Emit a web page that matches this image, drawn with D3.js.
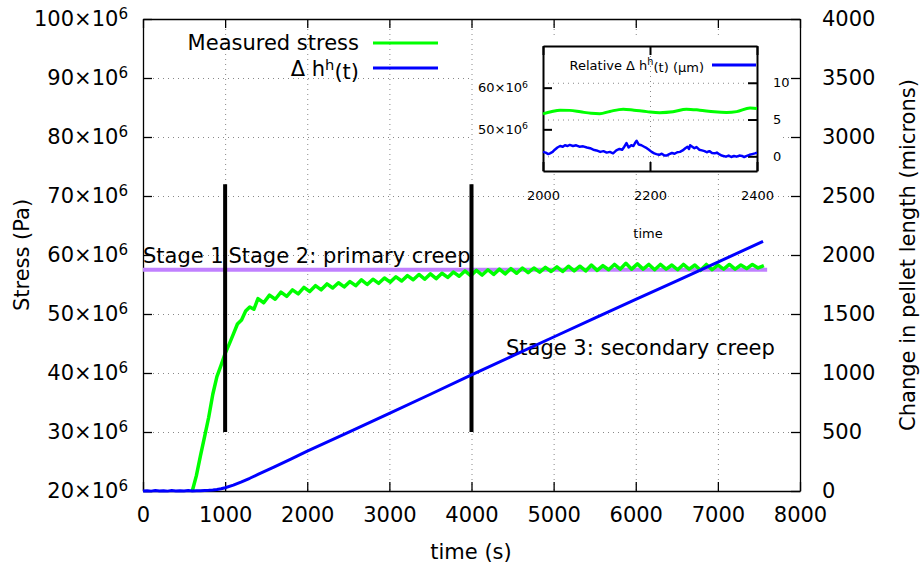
<!DOCTYPE html>
<html><head><meta charset="utf-8">
<script src="https://cdn.jsdelivr.net/npm/d3@7"></script>
<style>
body{margin:0;background:#fff;}
svg{display:block;font-family:"DejaVu Sans",sans-serif;}
</style></head>
<body>
<svg id="c" width="924" height="569"></svg>
<script>
// ---------- data ----------
const xTicks = [0,1000,2000,3000,4000,5000,6000,7000,8000];
const yTicksStress = [20,30,40,50,60,70,80,90,100]; // ×10^6 Pa
const yTicksLen = [0,500,1000,1500,2000,2500,3000,3500,4000];
const stageTimes = [1000,4000];
const stageSpan = [30,72];           // MPa extent of stage markers
const meanStress = 57.5;             // MPa
const meanStressEnd = 7600;
const stageLabels = [
  {t:0, s:58.6, text:"Stage 1"},
  {t:1040, s:58.6, text:"Stage 2: primary creep"},
  {t:4420, s:43.0, text:"Stage 3: secondary creep"}
];
// measured stress [time (s), MPa]
const stressSeries = [
 [600,20.0],[650,22.6],[700,26.0],[750,29.2],[800,32.5],[850,36.4],[900,39.4],[950,41.3],
 [1000,43.3],[1050,44.9],[1100,46.6],[1150,48.3],[1200,49.0],[1250,50.5],[1300,51.2],[1350,50.8],
 [1400,52.6],[1470,51.9],[1540,53.2],[1610,52.5],[1680,53.7],[1750,53.0],[1820,54.1],[1890,53.4],
 [1960,54.5],[2030,53.8],[2100,54.8],[2170,54.1],[2240,55.1],[2310,54.4],[2380,55.3],[2450,54.6],
 [2520,55.5],[2590,54.8],[2660,55.8],[2730,55.0],[2800,55.9],[2870,55.2],[2940,56.1],[3010,55.4],
 [3080,56.3],[3150,55.6],[3220,56.5],[3290,55.8],[3360,56.7],[3430,55.9],[3500,56.8],[3570,56.0],
 [3640,56.9],[3710,56.2],[3780,57.1],[3850,56.4],[3920,57.3],[3990,56.5],[4060,57.4],[4130,56.6],
 [4200,57.5],[4270,56.7],[4340,57.6],[4410,56.8],[4480,57.7],[4550,56.9],[4620,57.8],[4690,57.0],
 [4760,57.8],[4830,57.1],[4900,57.9],[4970,57.2],[5040,58.0],[5110,57.2],[5180,58.1],[5250,57.3],
 [5320,58.1],[5390,57.3],[5460,58.3],[5530,57.4],[5600,58.2],[5670,57.5],[5740,58.4],[5810,57.6],
 [5880,58.6],[5950,57.6],[6020,58.5],[6090,57.6],[6160,58.4],[6230,57.5],[6300,58.4],[6370,57.6],
 [6440,58.3],[6510,57.5],[6580,58.4],[6650,57.6],[6720,58.3],[6790,57.4],[6860,58.4],[6930,57.5],
 [7000,58.3],[7070,57.6],[7140,58.4],[7210,57.6],[7280,58.3],[7350,57.7],[7420,58.4],[7490,57.8],
 [7560,58.2]
];
// change in pellet length [time (s), microns]
const lengthSeries = [
 [0,0],[50,3],[100,-1],[150,4],[200,0],[250,3],[300,-1],[350,4],[400,1],[450,3],[500,0],[550,4],
 [600,1],[650,3],[700,2],[750,5],[800,6],[850,9],[900,13],[950,19],[1000,28],[1100,50],[1200,78],
 [1300,108],[1400,140],[1500,172],[1600,205],[1800,270],[2000,338],[2500,497],[3000,658],[3500,820],
 [4000,985],[4500,1145],[5000,1305],[5500,1465],[6000,1623],[6500,1780],[7000,1940],[7550,2115]
];
// inset: 2000–2400 s
const insetXTicks = [2000,2200,2400];
const insetYTicksStress = [50,60];
const insetYTicksRel = [0,5,10];
const insetStress = [
 [2000,53.7],[2015,54.2],[2032,54.6],[2050,54.55],[2070,54.2],[2090,53.85],[2106,53.75],[2125,54.3],
 [2150,54.85],[2170,54.6],[2194,54.25],[2218,54.0],[2243,54.2],[2268,54.85],[2293,54.6],[2320,54.2],
 [2343,54.05],[2362,54.25],[2387,55.1],[2400,55.0]
];
const insetRelDh = [
 [2000,0.6],[2005,0.5],[2010,0.3],[2013,0.4],[2018,0.6],[2022,0.9],[2027,1.2],[2032,1.4],[2037,1.3],
 [2041,1.5],[2046,1.4],[2050,1.55],[2056,1.4],[2062,1.5],[2068,1.3],[2075,1.35],[2082,1.2],[2088,1.1],
 [2094,0.9],[2100,0.8],[2107,0.6],[2113,0.7],[2119,0.5],[2125,0.6],[2131,0.4],[2137,0.8],[2143,1.0],
 [2148,0.9],[2152,1.3],[2156,1.8],[2160,1.2],[2165,1.5],[2169,1.4],[2172,1.8],[2175,2.1],[2179,1.6],
 [2184,1.5],[2189,1.3],[2194,1.1],[2198,0.9],[2203,0.6],[2208,0.4],[2212,0.3],[2217,0.2],[2222,0.35],
 [2227,0.1],[2231,0.1],[2236,0.3],[2241,0.45],[2246,0.35],[2251,0.55],[2256,0.6],[2261,0.8],[2266,1.1],
 [2270,1.3],[2273,1.0],[2275,1.5],[2279,1.3],[2283,1.1],[2287,1.25],[2292,0.9],[2297,0.8],[2302,0.7],
 [2306,0.55],[2311,0.7],[2316,0.45],[2321,0.4],[2325,0.5],[2330,0.25],[2334,0.1],[2337,0.05],
 [2342,-0.05],[2347,0.1],[2352,-0.1],[2357,0.05],[2362,-0.05],[2367,0.1],[2372,0.05],[2376,-0.1],
 [2381,0.05],[2386,0.2],[2391,0.3],[2396,0.4],[2400,0.5]
];

// ---------- drawing ----------
const svg = d3.select("#c");
const L=143, R=800, T=19, B=491;
const x = d3.scaleLinear([0,8000],[L,R]);
const yS = d3.scaleLinear([20,100],[B,T]);
const yL = d3.scaleLinear([0,4000],[B,T]);
const FS = 21;
const fmt = d3.format("d");

function sup(sel, base){ // "N×10^6"
  sel.text(null);
  sel.append("tspan").text(base);
  sel.append("tspan").attr("dy","-0.5em").attr("font-size","0.72em").text("6");
}

// grid
const grid = svg.append("g").attr("stroke","#888").attr("stroke-dasharray","1,4").attr("stroke-width",1);
grid.selectAll("line.gx").data(xTicks.slice(1,-1)).join("line")
  .attr("x1",d=>x(d)+0.5).attr("x2",d=>x(d)+0.5).attr("y1",T).attr("y2",B);
grid.selectAll("line.gy").data(yTicksStress.slice(1,-1)).join("line")
  .attr("x1",L).attr("x2",R).attr("y1",d=>yS(d)+0.5).attr("y2",d=>yS(d)+0.5);

// axes
const axB = svg.append("g").attr("transform",`translate(0,${B})`)
  .call(d3.axisBottom(x).tickValues(xTicks).tickFormat(fmt).tickSizeInner(-9).tickSizeOuter(0).tickPadding(16));
const axT = svg.append("g").attr("transform",`translate(0,${T})`)
  .call(d3.axisTop(x).tickValues(xTicks).tickSizeInner(-9).tickSizeOuter(0).tickFormat(""));
const axL = svg.append("g").attr("transform",`translate(${L},0)`)
  .call(d3.axisLeft(yS).tickValues(yTicksStress).tickSizeInner(-9).tickSizeOuter(0).tickPadding(15));
const axR = svg.append("g").attr("transform",`translate(${R},0)`)
  .call(d3.axisRight(yL).tickValues(yTicksLen).tickFormat(fmt).tickSizeInner(-9).tickSizeOuter(0).tickPadding(22));
[axB,axT,axL,axR].forEach(g=>{
  g.attr("font-family",null).attr("font-size",FS);
  g.selectAll("path.domain").attr("stroke","#000").attr("stroke-width",1.3);
  g.selectAll(".tick line").attr("stroke","#000").attr("stroke-width",1.3);
  g.selectAll("text").attr("fill","#000");
});
axL.selectAll(".tick text").each(function(d){ sup(d3.select(this), d+"×10"); });

// inset background
svg.append("rect").attr("x",473).attr("y",38).attr("width",309).attr("height",136).attr("fill","#fff");

// axis titles
svg.append("text").attr("transform",`translate(29,255) rotate(-90)`).attr("text-anchor","middle")
  .attr("font-size",FS).text("Stress (Pa)");
svg.append("text").attr("transform",`translate(915,255) rotate(-90)`).attr("text-anchor","middle")
  .attr("font-size",FS).text("Change in pellet length (microns)");
svg.append("text").attr("x",471).attr("y",559).attr("text-anchor","middle")
  .attr("font-size",FS).text("time (s)");

// mean stress line
svg.append("line").attr("x1",x(0)).attr("x2",x(meanStressEnd)).attr("y1",yS(meanStress)).attr("y2",yS(meanStress))
  .attr("stroke","#c080ff").attr("stroke-width",4);

// stage labels
svg.selectAll("text.stage").data(stageLabels).join("text")
  .attr("x",d=>x(d.t)).attr("y",d=>yS(d.s)).attr("font-size",FS).text(d=>d.text);

// stress curve
const lineS = d3.line().x(d=>x(d[0])).y(d=>yS(d[1]));
svg.append("path").datum(stressSeries).attr("d",lineS).attr("fill","none")
  .attr("stroke","#00ff00").attr("stroke-width",3.5).attr("stroke-linejoin","round");

// stage markers
svg.selectAll("line.stage").data(stageTimes).join("line")
  .attr("x1",d=>x(d)).attr("x2",d=>x(d)).attr("y1",yS(stageSpan[0])).attr("y2",yS(stageSpan[1]))
  .attr("stroke","#000").attr("stroke-width",4);

// length curve
const lineL = d3.line().x(d=>x(d[0])).y(d=>yL(d[1]));
svg.append("path").datum(lengthSeries).attr("d",lineL).attr("fill","none")
  .attr("stroke","#0000ff").attr("stroke-width",3).attr("stroke-linejoin","round");

// legend
const lg = svg.append("g").attr("font-size",FS);
lg.append("text").attr("x",359).attr("y",50).attr("text-anchor","end").text("Measured stress");
lg.append("line").attr("x1",373).attr("x2",438).attr("y1",43).attr("y2",43).attr("stroke","#00ff00").attr("stroke-width",3);
const t2 = lg.append("text").attr("x",359).attr("y",76).attr("text-anchor","end");
t2.append("tspan").text("Δ h");
t2.append("tspan").attr("dy","-0.42em").attr("font-size","0.7em").text("h");
t2.append("tspan").attr("dy","0.42em").text("(t)");
lg.append("line").attr("x1",373).attr("x2",438).attr("y1",68).attr("y2",68).attr("stroke","#0000ff").attr("stroke-width",3);

// ---------- inset ----------
const iL=543, iR=757, iT=46, iB=171, IFS=13;
const xi = d3.scaleLinear([2000,2400],[iL,iR]);
const yiS = d3.scaleLinear([40,70],[iB,iT]);
const yiR = d3.scaleLinear([-2,15],[iB,iT]);
const ig = svg.append("g");
const igrid = ig.append("g").attr("stroke","#888").attr("stroke-dasharray","1,4");
igrid.selectAll("line.v").data([insetXTicks[1]]).join("line")
  .attr("x1",d=>xi(d)+0.5).attr("x2",d=>xi(d)+0.5).attr("y1",iT).attr("y2",iB);
igrid.selectAll("line.h").data(insetYTicksRel).join("line")
  .attr("x1",iL).attr("x2",iR).attr("y1",d=>yiR(d)+0.5).attr("y2",d=>yiR(d)+0.5);

const iaB = ig.append("g").attr("transform",`translate(0,${iB})`)
  .call(d3.axisBottom(xi).tickValues(insetXTicks).tickFormat(fmt).tickSizeInner(-9).tickSizeOuter(0).tickPadding(20));
const iaT = ig.append("g").attr("transform",`translate(0,${iT})`)
  .call(d3.axisTop(xi).tickValues(insetXTicks).tickSizeInner(-9).tickSizeOuter(0).tickFormat(""));
const iaL = ig.append("g").attr("transform",`translate(${iL},0)`)
  .call(d3.axisLeft(yiS).tickValues(insetYTicksStress).tickSizeInner(-9).tickSizeOuter(0).tickPadding(15));
const iaR = ig.append("g").attr("transform",`translate(${iR},0)`)
  .call(d3.axisRight(yiR).tickValues(insetYTicksRel).tickFormat(fmt).tickSizeInner(-9).tickSizeOuter(0).tickPadding(16));
[iaB,iaT,iaL,iaR].forEach(g=>{
  g.attr("font-family",null).attr("font-size",IFS);
  g.selectAll("path.domain").attr("stroke","#000").attr("stroke-width",2);
  g.selectAll(".tick line").attr("stroke","#000").attr("stroke-width",2);
  g.selectAll("text").attr("fill","#000");
});
iaL.selectAll(".tick text").each(function(d){ sup(d3.select(this), d+"×10"); });
ig.append("text").attr("x",648).attr("y",238).attr("text-anchor","middle").attr("font-size",IFS).text("time");

ig.append("path").datum(insetStress).attr("d",d3.line().x(d=>xi(d[0])).y(d=>yiS(d[1])).curve(d3.curveMonotoneX))
  .attr("fill","none").attr("stroke","#00ff00").attr("stroke-width",3);
ig.append("path").datum(insetRelDh).attr("d",d3.line().x(d=>xi(d[0])).y(d=>yiR(d[1])))
  .attr("fill","none").attr("stroke","#0000ff").attr("stroke-width",2.5).attr("stroke-linejoin","round");

const it = ig.append("text").attr("x",704).attr("y",70).attr("text-anchor","end").attr("font-size",IFS);
it.append("tspan").text("Relative Δ h");
it.append("tspan").attr("dy","-0.5em").attr("font-size","0.75em").text("h");
it.append("tspan").attr("dy","0.5em").text("(t) (μm)");
ig.append("line").attr("x1",712).attr("x2",756).attr("y1",65).attr("y2",65).attr("stroke","#0000ff").attr("stroke-width",3);
</script>
</body></html>
